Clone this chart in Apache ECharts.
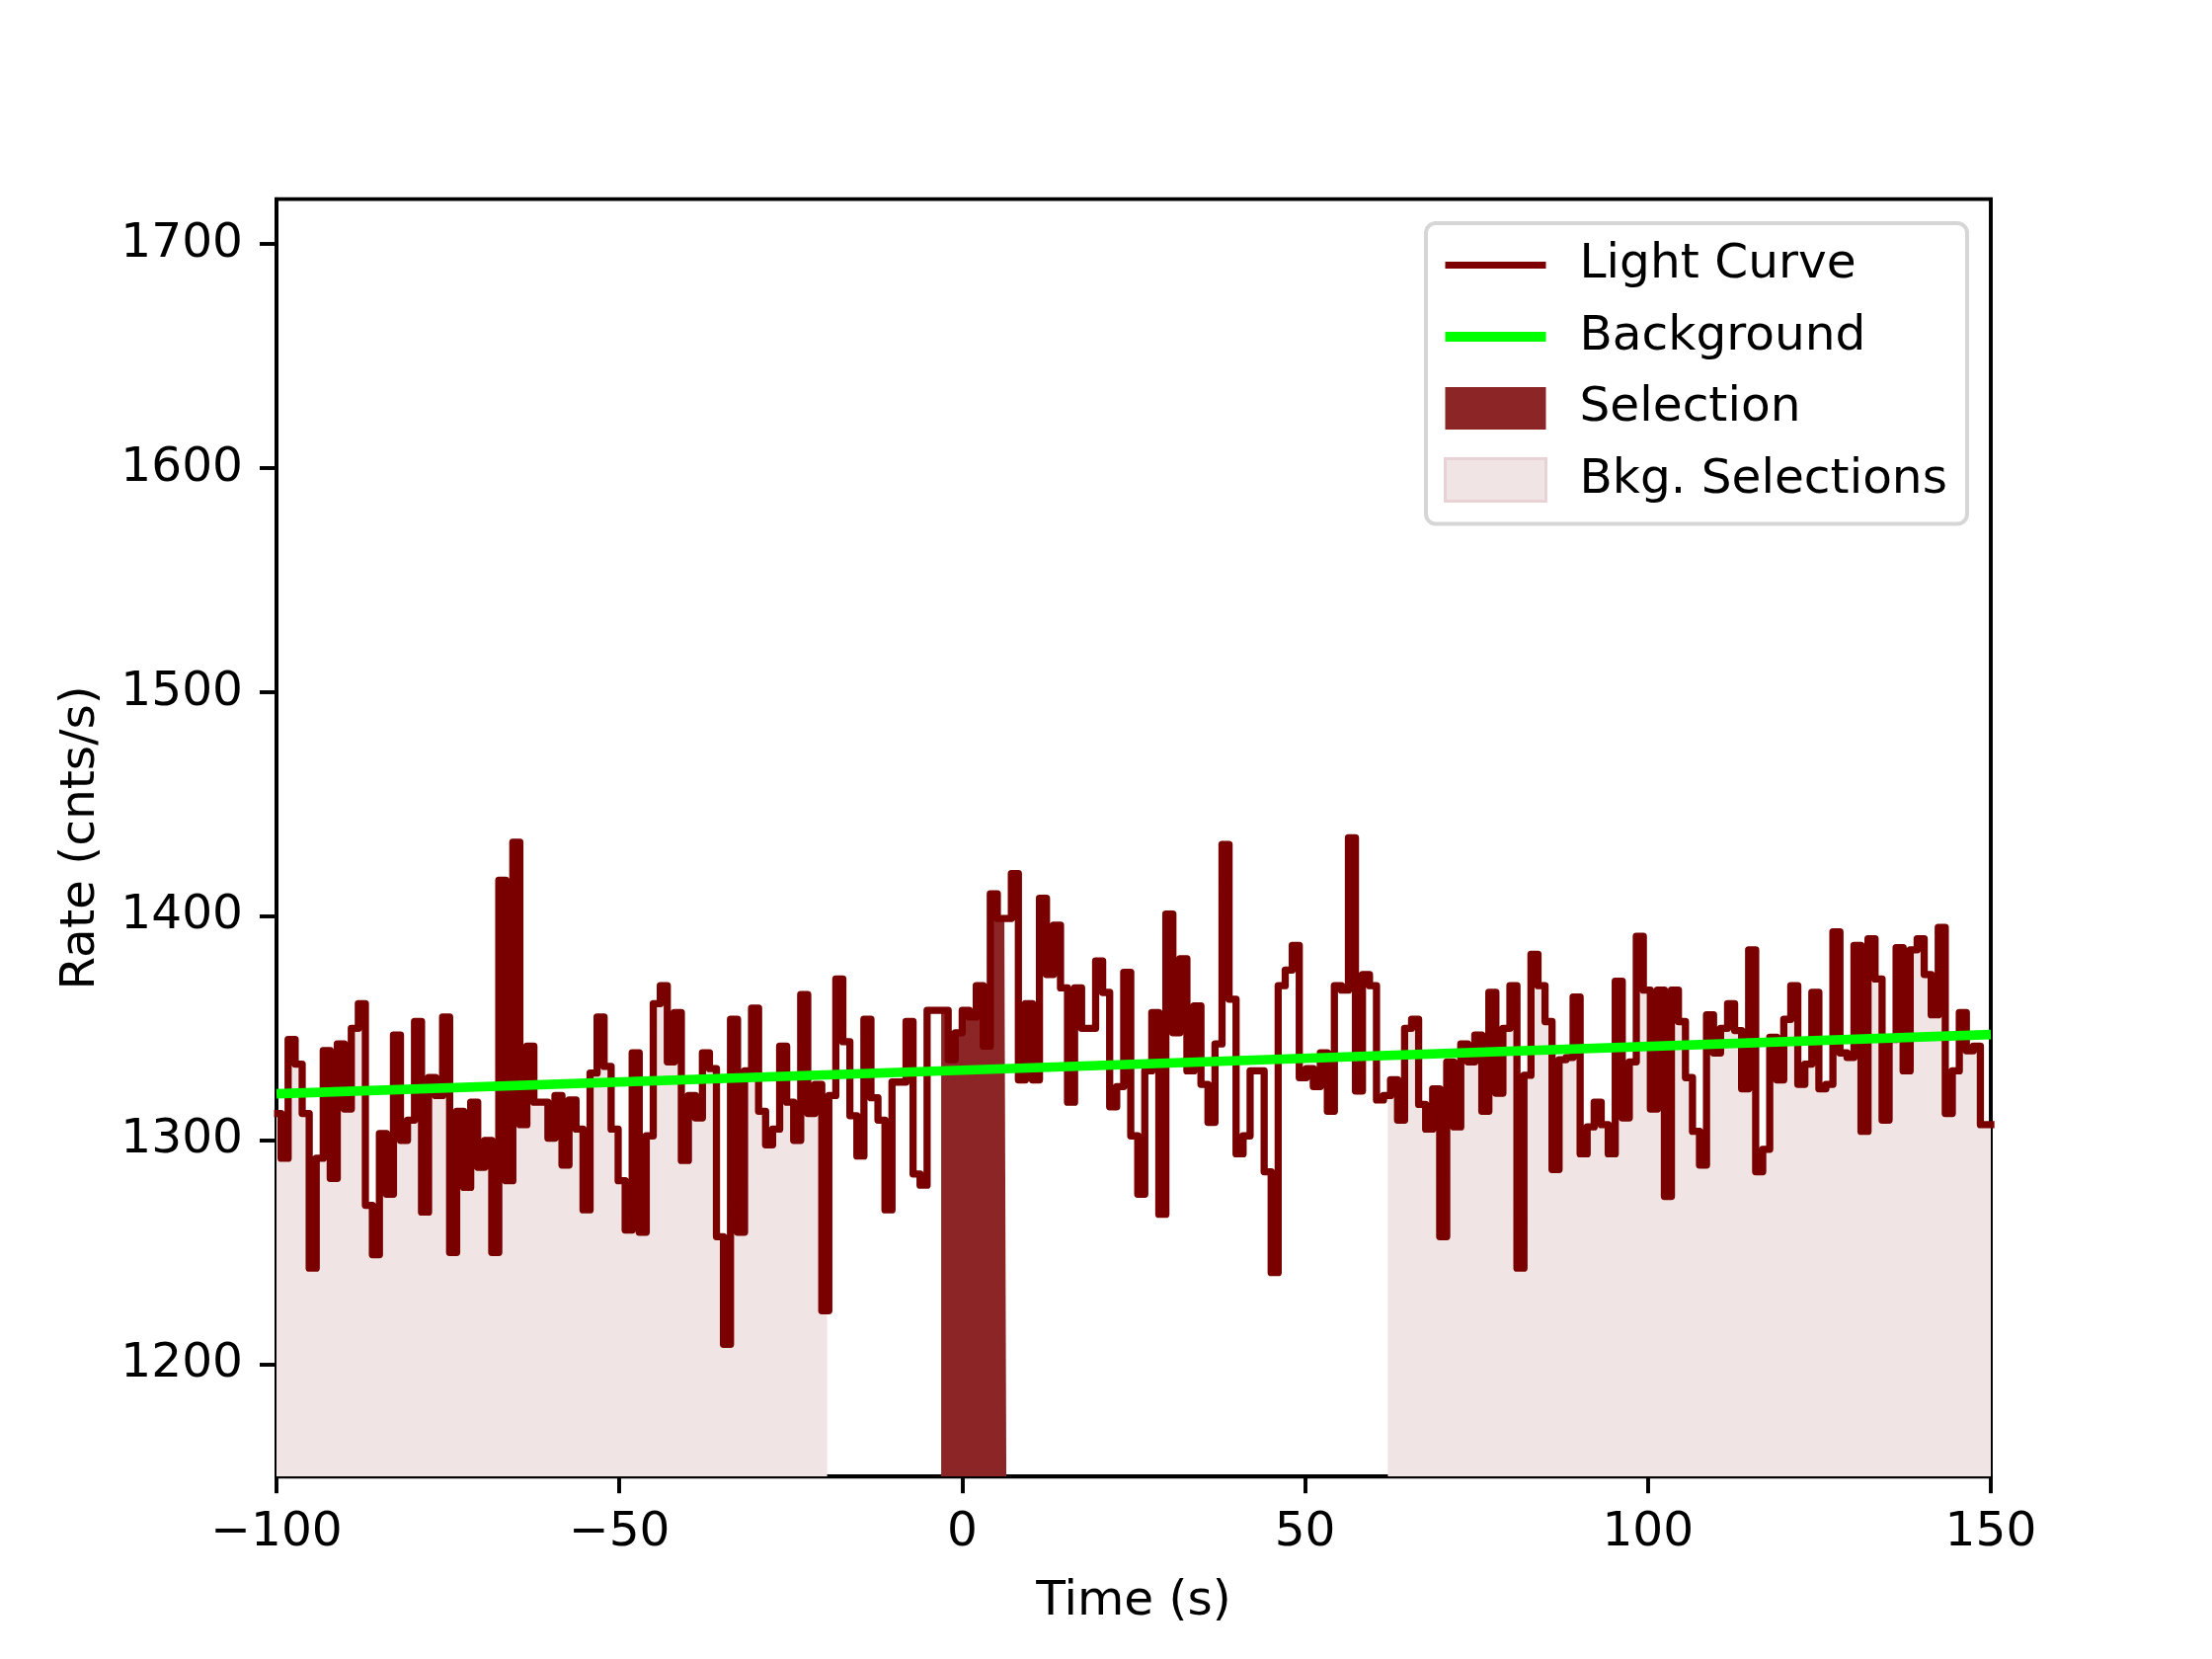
<!DOCTYPE html>
<html><head><meta charset="utf-8">
<script src="https://cdn.jsdelivr.net/npm/echarts@6/dist/echarts.min.js"></script>
<style>html,body{margin:0;padding:0;background:#fff}#c{width:2240px;height:1680px}</style>
</head><body><div id="c"></div>
<script>
// ---- data ----
const binWidth = 1.024;          // s
const firstEdge = -100.352;      // s, left edge of first bin
const rates = [
1312,1292,1345,1334,1312,1243,1292,1340,1283,1343,
1314,1350,1361,1271,1249,1303,1276,1347,1300,1309,
1353,1268,1328,1320,1355,1250,1313,1279,1317,1288,
1300,1250,1416,1282,1433,1307,1342,1317,1317,1301,
1320,1289,1318,1305,1269,1330,1355,1333,1305,1282,
1260,1339,1259,1302,1361,1369,1335,1357,1291,1320,
1310,1339,1332,1257,1209,1354,1259,1331,1359,1313,
1298,1305,1342,1317,1300,1365,1312,1325,1224,1320,
1372,1344,1311,1293,1354,1319,1309,1269,1326,1326,
1353,1285,1280,1358,1358,1358,1336,1348,1358,1355,
1369,1342,1410,1399,1399,1419,1327,1361,1327,1408,
1374,1396,1368,1317,1368,1350,1350,1380,1366,1315,
1324,1375,1302,1276,1331,1357,1267,1401,1348,1381,
1331,1360,1325,1308,1343,1432,1363,1294,1302,1331,
1331,1286,1241,1369,1376,1387,1328,1332,1324,1339,
1313,1369,1367,1435,1322,1374,1369,1318,1320,1327,
1309,1350,1354,1316,1305,1323,1257,1335,1306,1343,
1335,1347,1313,1366,1321,1350,1369,1243,1329,1383,
1369,1353,1287,1336,1337,1364,1294,1306,1317,1307,
1294,1371,1310,1335,1391,1367,1314,1367,1275,1367,
1353,1328,1304,1289,1356,1339,1350,1361,1349,1323,
1385,1286,1296,1346,1327,1354,1369,1325,1334,1366,
1323,1325,1393,1339,1337,1387,1304,1390,1372,1309,
1345,1386,1331,1385,1390,1374,1356,1395,1312,1331,
1357,1340,1342,1307,1307
];
const bkgTimes = [-100, 0, 150];
const bkgRates = [1320.8, 1331.3, 1347.2];
const selectionRange = [-3.07, 6.43];
const bkgRanges = [[-100, -19.7], [62.07, 150]];
const xTicks = [-100, -50, 0, 50, 100, 150];
const yTicks = [1200, 1300, 1400, 1500, 1600, 1700];

// ---- helpers ----
function edge(j){ return firstEdge + binWidth * j; }
const lcData = rates.map((r, j) => [edge(j), r]);
lcData.push([edge(rates.length), rates[rates.length - 1]]);
function rateAt(t){
  let j = Math.floor((t - firstEdge) / binWidth);
  j = Math.max(0, Math.min(rates.length - 1, j));
  return rates[j];
}
function slice(a, b){
  const pts = [[a, rateAt(a)]];
  for (let j = 0; j < rates.length; j++){
    const e = edge(j);
    if (e > a && e < b) pts.push([e, rates[j]]);
  }
  pts.push([b, rateAt(b - 1e-6)]);
  return pts;
}
const FONT = 'DejaVu Sans';
const FS = 48.6;
const minus = v => String(v).replace('-', '\u2212');

const chart = echarts.init(document.getElementById('c'), null, {renderer: 'canvas'});
const fillSeries = bkgRanges.map(r => ({
  type: 'line', name: 'Bkg. Selections', data: slice(r[0], r[1]), step: 'end',
  symbol: 'none', lineStyle: {width: 0, opacity: 0},
  itemStyle: {color: '#F0E4E5'},
  areaStyle: {color: '#F0E4E5', opacity: 1, origin: 'start'},
  z: 1, silent: true
}));
chart.setOption({
  animation: false,
  backgroundColor: '#fff',
  grid: {left: 280, right: 224, top: 201.6, bottom: 184.8, show: true,
         borderColor: '#000', borderWidth: 3.9, backgroundColor: 'transparent',
         containLabel: false, outerBoundsMode: 'none'},
  xAxis: {
    type: 'value', min: -100, max: 150, interval: 50,
    name: 'Time (s)', nameLocation: 'middle', nameGap: 103,
    nameTextStyle: {fontFamily: FONT, fontSize: FS, color: '#000'},
    axisLine: {show: true, onZero: false, lineStyle: {color: '#000', width: 3.9}},
    axisTick: {show: true, inside: false, length: 17, lineStyle: {color: '#000', width: 3.9}},
    axisLabel: {margin: 33, fontFamily: FONT, fontSize: FS, color: '#000', formatter: minus},
    splitLine: {show: false}
  },
  yAxis: {
    type: 'value', min: 1150, max: 1720,
    name: 'Rate (cnts/s)', nameLocation: 'middle', nameGap: 173,
    nameTextStyle: {fontFamily: FONT, fontSize: FS, color: '#000'},
    axisLine: {show: true, onZero: false, lineStyle: {color: '#000', width: 3.9}},
    axisTick: {show: true, inside: false, length: 17, customValues: yTicks, lineStyle: {color: '#000', width: 3.9}},
    axisLabel: {margin: 34, fontFamily: FONT, fontSize: FS, color: '#000', customValues: yTicks,
                padding: [6, 0, 0, 0],
                formatter: v => String(Math.round(v))},
    splitLine: {show: false}
  },
  legend: {
    orient: 'vertical', left: 1444, top: 226,
    itemWidth: 102, itemHeight: 43, itemGap: 23.5,
    padding: [18, 20, 20, 18],
    backgroundColor: '#fff', borderColor: '#d6d6d6', borderWidth: 4, borderRadius: 10,
    selectedMode: false,
    textStyle: {fontFamily: FONT, fontSize: FS, color: '#000', padding: [0, 0, 0, 29], lineHeight: 43},
    data: [
      {name: 'Light Curve', icon: 'path://M0,0H100V7H0Z', itemStyle: {color: '#7F0000'}},
      {name: 'Background', icon: 'path://M0,0H100V10H0Z', itemStyle: {color: '#00FF00'}},
      {name: 'Selection', icon: 'rect', itemStyle: {color: '#8C2626'}},
      {name: 'Bkg. Selections', icon: 'rect', itemStyle: {color: '#F0E4E5', borderColor: '#E8D2D4', borderWidth: 3}}
    ]
  },
  series: [
    ...fillSeries,
    {type: 'line', name: 'Selection', data: slice(selectionRange[0], selectionRange[1]), step: 'end',
     symbol: 'none', lineStyle: {width: 0, opacity: 0}, itemStyle: {color: '#8C2626'},
     areaStyle: {color: '#8C2626', opacity: 1, origin: 'start'}, z: 2, silent: true},
    {type: 'line', name: 'Light Curve', data: lcData, step: 'end', symbol: 'none',
     lineStyle: {color: '#7A0000', width: 7.3, join: 'round'}, itemStyle: {color: '#7F0000'}, z: 3},
    {type: 'line', name: 'Background', data: bkgTimes.map((t, i) => [t, bkgRates[i]]), symbol: 'none',
     lineStyle: {color: '#00FF00', width: 9.7}, itemStyle: {color: '#00FF00'}, z: 4}
  ]
});
</script>
</body></html>
